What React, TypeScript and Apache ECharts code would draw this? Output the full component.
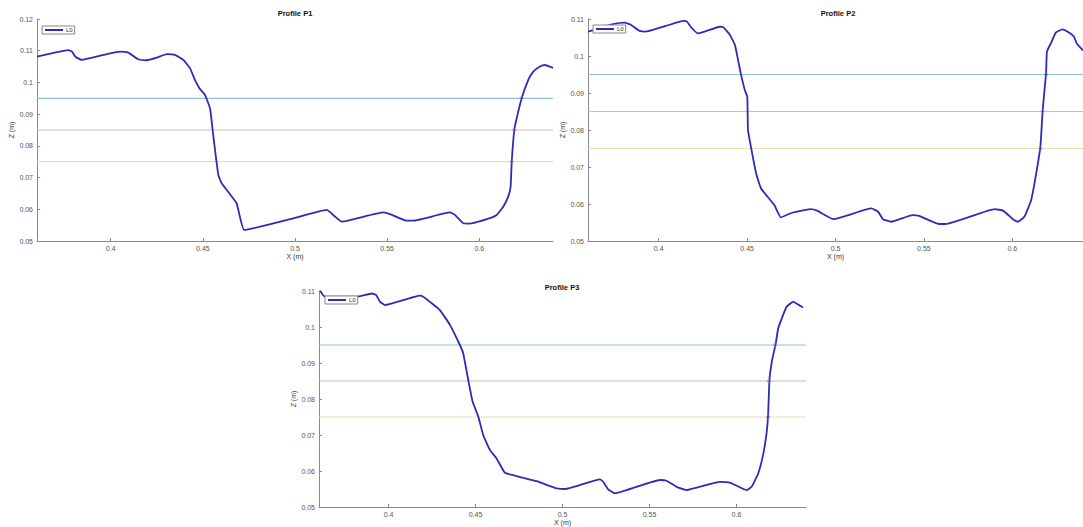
import { useEffect, useRef } from "react";
import * as echarts from "echarts";

// ---- data ----
const xTicks = [0.4, 0.45, 0.5, 0.55, 0.6];
const yTicksP1 = [0.05, 0.06, 0.07, 0.08, 0.09, 0.1, 0.11, 0.12];
const yTicksP23 = [0.05, 0.06, 0.07, 0.08, 0.09, 0.1, 0.11];
const titles = ["Profile P1", "Profile P2", "Profile P3"];
const levels = [0.095, 0.085, 0.075];

const p1X = [0.36, 0.377, 0.379, 0.381, 0.3843, 0.395, 0.405, 0.4095, 0.415, 0.4195, 0.425, 0.4304, 0.4349, 0.4394, 0.443, 0.4457, 0.4481, 0.4512, 0.4539, 0.4553, 0.4566, 0.4584, 0.4602, 0.4683, 0.4725, 0.5, 0.5172, 0.5217, 0.5253, 0.5479, 0.5515, 0.5606, 0.5642, 0.5841, 0.5868, 0.5913, 0.595, 0.6058, 0.6094, 0.613, 0.6157, 0.617, 0.6176, 0.619, 0.6203, 0.623, 0.6266, 0.6293, 0.6329, 0.6356, 0.64];
const p1Z = [0.1081, 0.1102, 0.1097, 0.108, 0.1071, 0.1085, 0.1097, 0.1094, 0.1073, 0.107, 0.1078, 0.1089, 0.1087, 0.1071, 0.1045, 0.1008, 0.0982, 0.096, 0.0918, 0.085, 0.0787, 0.0708, 0.0682, 0.0619, 0.0535, 0.0573, 0.0598, 0.0577, 0.0561, 0.059, 0.0585, 0.0564, 0.0564, 0.059, 0.0582, 0.0556, 0.0555, 0.0572, 0.0582, 0.0608, 0.064, 0.0671, 0.075, 0.085, 0.0887, 0.095, 0.1008, 0.1034, 0.105, 0.1055, 0.1046];

const p2X = [0.36, 0.363, 0.3741, 0.3807, 0.3844, 0.3891, 0.3928, 0.4142, 0.416, 0.4188, 0.4222, 0.4347, 0.4365, 0.4403, 0.4431, 0.4449, 0.4464, 0.4487, 0.4501, 0.4505, 0.4523, 0.4551, 0.4579, 0.4654, 0.4691, 0.4747, 0.4859, 0.4896, 0.4989, 0.5203, 0.5241, 0.5269, 0.5315, 0.5436, 0.5473, 0.5585, 0.5622, 0.5902, 0.5948, 0.6004, 0.6032, 0.6069, 0.6107, 0.6129, 0.6159, 0.6172, 0.6191, 0.6196, 0.6218, 0.6246, 0.6283, 0.6311, 0.6349, 0.6365, 0.64];
const p2Z = [0.1066, 0.107, 0.1086, 0.109, 0.1084, 0.1068, 0.1066, 0.1095, 0.1093, 0.1075, 0.1061, 0.1079, 0.1078, 0.1057, 0.103, 0.0989, 0.0953, 0.0908, 0.089, 0.08, 0.0751, 0.0683, 0.0642, 0.0597, 0.0564, 0.0575, 0.0586, 0.0582, 0.0559, 0.0588, 0.0579, 0.0559, 0.0552, 0.057, 0.0568, 0.0546, 0.0546, 0.0586, 0.0582, 0.0559, 0.0552, 0.0566, 0.0611, 0.0665, 0.0755, 0.0854, 0.0953, 0.1012, 0.1034, 0.1063, 0.1072, 0.1066, 0.1052, 0.1034, 0.1015];

const p3X = [0.3606, 0.3634, 0.3817, 0.3903, 0.3928, 0.3951, 0.3979, 0.418, 0.4199, 0.4248, 0.4295, 0.4353, 0.441, 0.4429, 0.4458, 0.4483, 0.4516, 0.4544, 0.4583, 0.4621, 0.4669, 0.4736, 0.4851, 0.4928, 0.4966, 0.5014, 0.5215, 0.5234, 0.5263, 0.5301, 0.556, 0.5598, 0.5656, 0.5713, 0.5905, 0.5962, 0.6058, 0.6087, 0.6125, 0.6153, 0.6173, 0.6182, 0.619, 0.6205, 0.6226, 0.624, 0.6268, 0.6288, 0.6326, 0.6383];
const p3Z = [0.1101, 0.1084, 0.1084, 0.1093, 0.1089, 0.107, 0.1061, 0.1087, 0.1084, 0.1066, 0.1047, 0.1006, 0.095, 0.0927, 0.0853, 0.0793, 0.0751, 0.07, 0.0658, 0.0635, 0.0595, 0.0586, 0.0572, 0.0558, 0.0552, 0.055, 0.0577, 0.057, 0.0549, 0.0538, 0.0575, 0.0573, 0.0556, 0.0547, 0.057, 0.0568, 0.0547, 0.0556, 0.0593, 0.0644, 0.0704, 0.0755, 0.0853, 0.0908, 0.0954, 0.0996, 0.1033, 0.1056, 0.107, 0.1054];

// x positions where the profile crosses each level (right bank)
const p1Cross = [0.623, 0.619, 0.6176];
const p2Cross = [0.6191, 0.6172, 0.6159];
const p3Cross = [0.6221, 0.6186, 0.6182];

// ---- styles ----
const FONT = "Liberation Sans, Arial, sans-serif";
const levelColors = ["#93c3dc", "#e3b4a0", "#e9dfae"];
const curveColor = "#2c2cb8";
const axisColor = "#8a8a8a";

const grids = [
  { left: 37, top: 19, width: 516, height: 222 },
  { left: 588, top: 19, width: 501, height: 222 },
  { left: 319, top: 291, width: 487, height: 216 },
];
const yMax = [0.12, 0.11, 0.11];
const yTickSets = [yTicksP1, yTicksP23, yTicksP23];
const yNameGap = [20, 17, 16];
const legendPos = [
  { left: 42, top: 26 },
  { left: 593, top: 25 },
  { left: 325, top: 296 },
];
const titlePos = [
  { left: 295, top: 9 },
  { left: 838, top: 9 },
  { left: 562, top: 283 },
];

function zip(xs: number[], ys: number[]) {
  return xs.map((x, i) => [x, ys[i]]);
}

export default function App() {
  const ref = useRef<HTMLDivElement>(null);
  useEffect(() => {
    if (!ref.current) return;
    const chart = echarts.init(ref.current, undefined, { renderer: "svg" });
    const profiles = [zip(p1X, p1Z), zip(p2X, p2Z), zip(p3X, p3Z)];
    const crosses = [p1Cross, p2Cross, p3Cross];

    const xAxis = grids.map((_, i) => ({
      type: "value",
      gridIndex: i,
      min: 0.36,
      max: 0.64,
      name: "X (m)",
      nameLocation: "middle",
      nameGap: 12,
      nameTextStyle: { fontSize: 7, color: "#333", fontFamily: FONT },
      axisLine: { show: true, lineStyle: { color: axisColor, width: 1 } },
      axisTick: { show: true, inside: true, length: 3, customValues: xTicks, lineStyle: { color: axisColor } },
      axisLabel: { customValues: xTicks, fontSize: 7, color: "#555", margin: 4, fontFamily: FONT },
      splitLine: { show: false },
    }));
    const yAxis = grids.map((_, i) => ({
      type: "value",
      gridIndex: i,
      min: 0.05,
      max: yMax[i],
      name: "Z (m)",
      nameLocation: "middle",
      nameGap: yNameGap[i],
      nameTextStyle: { fontSize: 7, color: "#333", fontFamily: FONT },
      axisLine: { show: true, lineStyle: { color: axisColor, width: 1 } },
      axisTick: { show: true, inside: true, length: 3, customValues: yTickSets[i], lineStyle: { color: axisColor } },
      axisLabel: { customValues: yTickSets[i], fontSize: 7, color: "#555", margin: 4, fontFamily: FONT },
      splitLine: { show: false },
    }));

    const series: any[] = [];
    grids.forEach((_, i) => {
      levels.forEach((lv, k) => {
        series.push({
          type: "line",
          name: "level" + k,
          xAxisIndex: i,
          yAxisIndex: i,
          data: [[0.36, lv], [0.64, lv]],
          symbol: "none",
          silent: true,
          lineStyle: { color: levelColors[k], width: 1.2 },
          z: 2,
        });
      });
      series.push({
        type: "line",
        name: "L0",
        xAxisIndex: i,
        yAxisIndex: i,
        data: profiles[i],
        symbol: "none",
        smooth: 0.12,
        lineStyle: { color: curveColor, width: 1.8 },
        itemStyle: { color: curveColor },
        z: 3,
      });
      series.push({
        type: "scatter",
        name: "cross" + i,
        xAxisIndex: i,
        yAxisIndex: i,
        data: crosses[i].map((x, k) => [x, levels[k]]),
        symbol: "circle",
        symbolSize: 3.5,
        silent: true,
        itemStyle: { color: "rgba(0,0,0,0)", borderColor: "#9a86b4", borderWidth: 0.8, opacity: 0.8 },
        z: 4,
      });
    });

    chart.setOption({
      animation: false,
      backgroundColor: "#fff",
      textStyle: { fontFamily: FONT },
      title: titles.map((t, i) => ({
        text: t,
        left: titlePos[i].left,
        top: titlePos[i].top,
        textAlign: "center",
        padding: 0,
        textStyle: { fontSize: 7.5, fontWeight: "bold", color: "#111", fontFamily: FONT },
      })),
      legend: legendPos.map((p) => ({
        left: p.left,
        top: p.top,
        data: [{ name: "L0", icon: "rect" }],
        itemWidth: 18,
        itemHeight: 2,
        padding: [1, 2, 1, 3],
        borderColor: "#888",
        borderWidth: 1,
        borderRadius: 0,
        backgroundColor: "#fff",
        selectedMode: false,
        textStyle: { fontSize: 6, color: "#333", fontFamily: FONT, padding: [0, 0, 0, -2] },
      })),
      grid: grids.map((g) => ({ ...g, containLabel: false })),
      xAxis,
      yAxis,
      series,
    } as any);
    return () => chart.dispose();
  }, []);
  return (
    <div
      ref={ref}
      style={{ position: "absolute", left: 0, top: 0, width: 1083, height: 527 }}
    />
  );
}
